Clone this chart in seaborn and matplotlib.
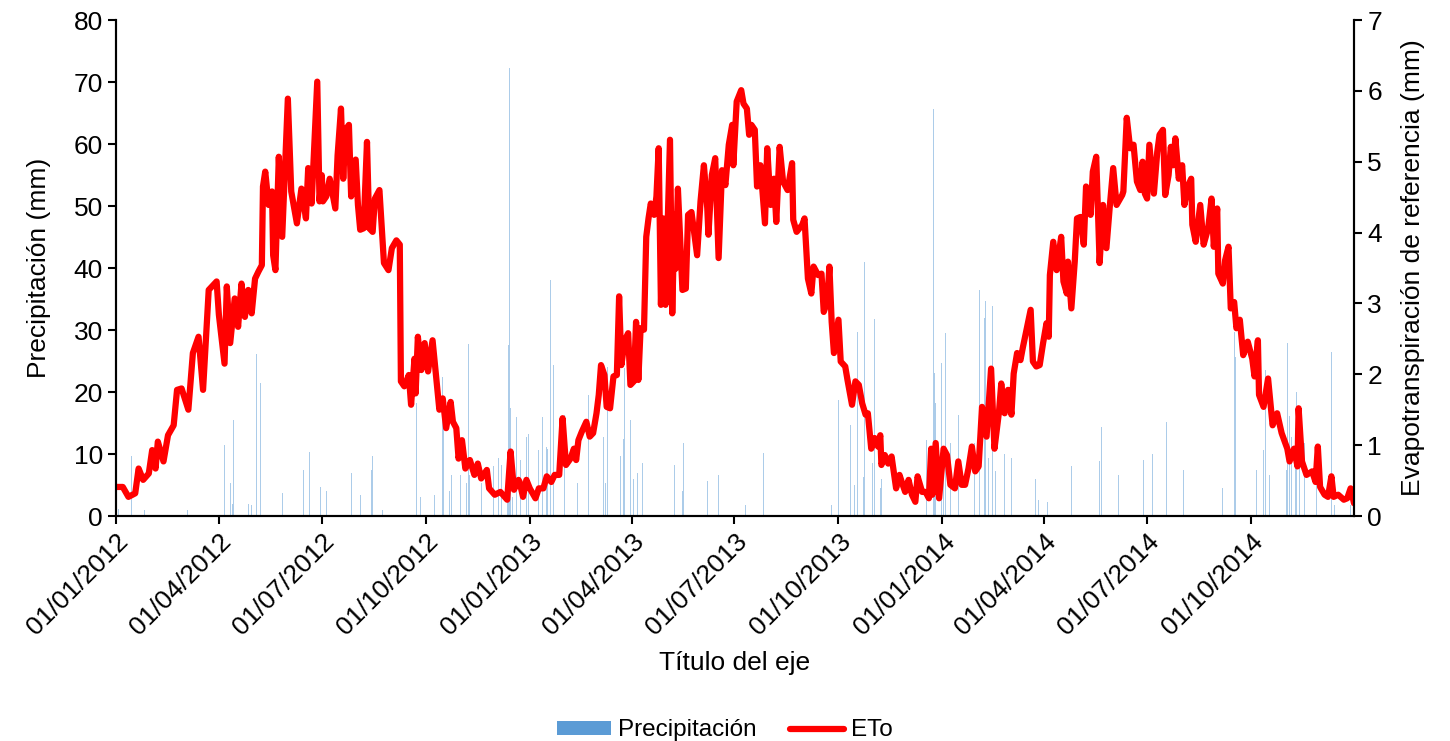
import pandas as pd
import seaborn as sns
import matplotlib.pyplot as plt
import matplotlib.dates as mdates
from matplotlib.patches import Patch
from matplotlib.lines import Line2D

# ETo (mm): día desde 01/01/2012 y valor
eto_dia = [0, 6, 11, 17, 20, 24, 29, 32, 35, 37, 42, 46, 51, 54, 58, 64, 68, 73, 77, 82,
           89, 91, 96, 98, 101, 105, 108, 111, 114, 117, 120, 123, 126, 129, 130, 132, 135, 138, 139, 141,
           144, 147, 152, 155, 160, 164, 168, 170, 173, 178, 180, 182, 183, 186, 189, 194, 196, 199, 201, 203,
           206, 208, 212, 214, 216, 219, 222, 224, 227, 229, 233, 237, 241, 244, 248, 251, 252, 255, 259, 261,
           264, 265, 267, 270, 273, 276, 280, 283, 286, 289, 292, 296, 298, 301, 303, 306, 309, 313, 317, 320,
           323, 328, 330, 335, 340, 346, 349, 352, 356, 357, 360, 363, 366, 371, 374, 378, 381, 385, 388, 392,
           395, 398, 402, 405, 407, 409, 412, 416, 419, 422, 425, 427, 429, 432, 434, 437, 440, 443, 445, 447,
           450, 453, 455, 458, 460, 462, 464, 467, 469, 471, 473, 476, 478, 480, 482, 484, 486, 490, 492, 494,
           495, 497, 501, 504, 506, 509, 514, 517, 520, 523, 524, 527, 530, 533, 536, 539, 542, 545, 546, 549,
           553, 555, 558, 560, 562, 565, 567, 570, 574, 576, 579, 582, 584, 587, 590, 594, 598, 599, 602, 607,
           609, 612, 615, 617, 621, 624, 626, 629, 631, 633, 635, 639, 641, 645, 647, 651, 654, 657, 660, 663,
           665, 668, 671, 674, 676, 677, 680, 683, 686, 690, 693, 695, 698, 701, 704, 707, 709, 713, 716, 719,
           721, 722, 725, 728, 732, 735, 738, 742, 745, 748, 751, 754, 757, 760, 763, 766, 770, 774, 777, 781,
           783, 786, 789, 792, 794, 797, 800, 802, 805, 809, 811, 814, 817, 820, 823, 825, 826, 829, 832, 836,
           838, 841, 842, 845, 848, 850, 853, 856, 858, 862, 864, 867, 870, 873, 876, 879, 882, 885, 890, 891,
           894, 897, 900, 903, 906, 908, 910, 912, 914, 918, 921, 923, 926, 928, 931, 933, 935, 937, 940, 943,
           945, 948, 951, 952, 955, 959, 962, 966, 969, 971, 974, 975, 979, 981, 984, 986, 989, 991, 994, 997,
           1001, 1005, 1007, 1010, 1011, 1015, 1019, 1023, 1027, 1031, 1036, 1038, 1042, 1045, 1046, 1049, 1053, 1058, 1061, 1063,
           1065, 1069, 1072, 1075, 1077, 1081, 1086, 1089, 1092, 1095]
eto_valor = [0.41, 0.41, 0.27, 0.32, 0.67, 0.51, 0.60, 0.93, 0.67, 1.05, 0.77, 1.14, 1.28, 1.78, 1.80, 1.50, 2.30, 2.53, 1.78, 3.19,
             3.31, 2.84, 2.15, 3.24, 2.44, 3.07, 2.67, 3.28, 2.81, 3.19, 2.86, 3.35, 3.45, 3.54, 4.65, 4.86, 4.39, 4.58, 3.68, 3.47,
             5.07, 3.94, 5.89, 4.58, 4.13, 4.62, 4.20, 4.91, 4.41, 6.13, 4.44, 4.81, 4.44, 4.51, 4.76, 4.34, 5.09, 5.75, 4.76, 5.45,
             5.52, 4.51, 5.03, 4.39, 4.04, 4.06, 5.28, 4.06, 4.01, 4.48, 4.60, 3.57, 3.47, 3.78, 3.89, 3.83, 1.90, 1.83, 1.99, 1.57,
             2.22, 1.73, 2.53, 2.06, 2.44, 2.04, 2.48, 1.99, 1.50, 1.66, 1.24, 1.61, 1.33, 1.24, 0.81, 1.07, 0.67, 0.79, 0.58, 0.74,
             0.53, 0.65, 0.39, 0.30, 0.34, 0.23, 0.91, 0.37, 0.51, 0.48, 0.27, 0.51, 0.39, 0.25, 0.39, 0.39, 0.56, 0.48, 0.58, 0.58,
             1.38, 0.72, 0.81, 0.95, 0.79, 1.07, 1.19, 1.33, 1.12, 1.17, 1.45, 1.71, 2.13, 1.99, 1.54, 1.52, 1.97, 1.99, 3.10, 2.13,
             2.48, 2.58, 1.85, 1.90, 2.74, 1.92, 2.65, 2.63, 3.94, 4.20, 4.41, 4.25, 4.51, 5.19, 2.98, 4.20, 2.98, 5.31, 2.86, 4.25,
             3.49, 4.62, 3.19, 3.21, 4.25, 4.29, 3.68, 4.44, 4.95, 4.34, 3.97, 4.81, 5.05, 3.64, 4.88, 4.67, 5.24, 5.52, 4.95, 5.85,
             6.01, 5.82, 5.75, 5.38, 5.52, 5.45, 4.65, 4.95, 4.13, 5.19, 4.39, 4.76, 4.15, 5.21, 4.72, 4.60, 4.98, 4.18, 4.01, 4.11,
             4.20, 3.35, 3.14, 3.52, 3.40, 3.42, 2.88, 3.02, 3.52, 2.74, 2.30, 2.77, 2.18, 2.11, 1.92, 1.57, 1.90, 1.85, 1.59, 1.43,
             1.45, 0.95, 1.10, 0.98, 1.14, 0.72, 0.86, 0.74, 0.84, 0.39, 0.58, 0.48, 0.34, 0.51, 0.30, 0.20, 0.56, 0.34, 0.34, 0.25,
             0.95, 0.30, 1.03, 0.25, 0.95, 0.86, 0.44, 0.39, 0.77, 0.44, 0.44, 0.67, 0.98, 0.63, 0.70, 1.54, 1.12, 2.08, 0.95, 1.47,
             1.87, 1.45, 1.78, 1.43, 2.01, 2.30, 2.20, 2.37, 2.60, 2.91, 2.18, 2.11, 2.13, 2.44, 2.72, 2.53, 3.40, 3.87, 3.47, 3.94,
             3.31, 3.14, 3.59, 2.93, 3.59, 4.20, 4.22, 3.83, 4.65, 4.25, 4.86, 5.07, 3.57, 4.39, 3.78, 4.37, 4.91, 4.39, 4.53, 4.58,
             5.62, 5.19, 5.24, 4.72, 4.60, 5.00, 4.55, 4.48, 5.24, 4.55, 5.14, 5.38, 5.45, 4.53, 4.81, 5.21, 4.95, 5.33, 4.76, 4.95,
             4.39, 4.65, 4.76, 4.11, 3.87, 4.39, 3.83, 4.06, 4.48, 3.80, 4.34, 3.42, 3.28, 3.61, 3.80, 2.93, 3.02, 2.65, 2.77, 2.27,
             2.46, 2.22, 1.97, 2.48, 1.71, 1.54, 1.94, 1.28, 1.45, 1.17, 0.95, 0.77, 0.95, 0.70, 1.52, 0.77, 0.58, 0.63, 0.48, 0.98,
             0.41, 0.30, 0.27, 0.56, 0.27, 0.30, 0.23, 0.25, 0.39, 0.18]

# Precipitación (mm): días con lluvia visibles
prec_dia = [2, 14, 25, 31, 63, 77, 96, 101, 103, 104, 108, 115, 117, 120, 123, 124, 128, 138, 147, 153,
            166, 171, 181, 186, 208, 216, 226, 227, 236, 266, 268, 269, 282, 283, 289, 290, 295, 297, 298, 305,
            307, 310, 312, 313, 321, 323, 330, 334, 338, 341, 346, 347, 348, 349, 351, 354, 358, 363, 365, 374,
            377, 381, 382, 383, 384, 387, 390, 397, 406, 408, 418, 431, 433, 435, 446, 449, 450, 452, 455, 458,
            461, 466, 494, 501, 502, 513, 523, 533, 557, 573, 612, 633, 635, 639, 650, 653, 656, 658, 661, 662,
            666, 669, 671, 676, 677, 717, 719, 723, 724, 725, 727, 730, 732, 734, 735, 738, 743, 745, 750, 759,
            764, 766, 768, 769, 772, 775, 778, 781, 786, 789, 792, 813, 816, 819, 820, 824, 843, 845, 870, 872,
            887, 903, 909, 917, 929, 944, 949, 979, 987, 989, 990, 1009, 1010, 1015, 1017, 1018, 1020, 1035, 1036, 1038,
            1040, 1041, 1043, 1044, 1047, 1051, 1056, 1062, 1075, 1078, 1092]
prec_valor = [1.2, 9.6, 0.9, 1.2, 0.9, 5.8, 11.5, 5.4, 2.0, 15.5, 24.9, 23.0, 2.0, 1.8, 32.7, 26.1, 21.4, 4.2, 3.7, 4.7,
              7.5, 10.4, 4.7, 4.0, 6.9, 3.4, 7.5, 9.6, 0.9, 18.2, 17.1, 3.1, 3.4, 10.9, 22.5, 15.3, 4.0, 6.6, 10.0, 6.6,
              20.0, 5.4, 27.8, 6.6, 7.5, 5.4, 7.2, 8.0, 9.4, 8.3, 4.0, 27.6, 72.2, 17.4, 3.1, 16.0, 9.1, 12.8, 13.3, 10.6,
              16.0, 11.1, 10.8, 49.2, 38.1, 24.4, 5.4, 16.3, 12.5, 5.4, 19.5, 12.8, 5.4, 24.1, 9.6, 12.5, 23.8, 13.5, 15.5, 6.0,
              6.9, 8.5, 8.2, 4.0, 11.7, 3.1, 5.7, 6.6, 1.8, 10.2, 2.3, 1.8, 60.5, 18.7, 14.7, 5.0, 29.6, 50.0, 6.3, 41.0,
              3.7, 8.5, 31.8, 4.5, 6.0, 12.3, 7.5, 65.6, 23.0, 18.2, 14.2, 24.7, 10.8, 29.5, 26.0, 11.8, 13.7, 16.3, 3.4, 11.8,
              36.5, 30.5, 31.9, 34.6, 9.4, 33.9, 7.2, 4.5, 10.0, 6.6, 9.4, 6.0, 2.6, 13.0, 15.6, 2.3, 6.6, 8.0, 8.8, 14.4,
              6.6, 9.1, 9.1, 10.0, 15.2, 7.5, 16.8, 4.5, 6.6, 29.7, 25.7, 7.5, 31.1, 10.6, 23.5, 57.4, 6.6, 7.5, 27.9, 16.2,
              12.8, 18.2, 14.2, 20.0, 10.8, 11.8, 11.7, 6.6, 26.5, 1.8, 1.8]

inicio = pd.Timestamp('2012-01-01')
df_eto = pd.DataFrame({'Fecha': inicio + pd.to_timedelta(eto_dia, unit='D'), 'ETo': eto_valor})
df_prec = pd.DataFrame({'Fecha': inicio + pd.to_timedelta(prec_dia, unit='D'), 'Precipitación': prec_valor})

sns.set_style('ticks')
plt.rcParams['font.family'] = ['Liberation Sans', 'DejaVu Sans']
plt.rcParams['font.size'] = 19
plt.rcParams['text.color'] = 'black'
plt.rcParams['axes.labelcolor'] = 'black'

fig = plt.figure(figsize=(14.5, 7.41), dpi=100)
ax = fig.add_axes([116 / 1450, 1 - 516 / 741, 1238 / 1450, 496 / 741])

ax.bar(df_prec['Fecha'], df_prec['Precipitación'], width=0.7, color='#5B9BD5', alpha=0.5, linewidth=0)
ax.set_ylim(0, 80)
ax.set_yticks(range(0, 81, 10))
ax.set_ylabel('Precipitación (mm)', fontsize=19, labelpad=16)
ax.set_xlabel('Título del eje', fontsize=19, labelpad=8)

ax2 = ax.twinx()
sns.lineplot(data=df_eto, x='Fecha', y='ETo', ax=ax2, color='#FF0000', linewidth=4.5)
ax2.set_ylim(0, 7)
ax2.set_yticks(range(0, 8))
ax2.set_ylabel('Evapotranspiración de referencia (mm)', fontsize=19, labelpad=14)
ax2.set_xlabel('Título del eje', fontsize=19, labelpad=8)

ax.set_xlim(pd.Timestamp('2012-01-01'), pd.Timestamp('2014-12-31'))
ax.xaxis.set_major_locator(mdates.MonthLocator(bymonth=[1, 4, 7, 10]))
ax.xaxis.set_major_formatter(mdates.DateFormatter('%d/%m/%Y'))
for lab in ax.get_xticklabels():
    lab.set_rotation(45)
    lab.set_ha('right')
    lab.set_rotation_mode('anchor')

for a in (ax, ax2):
    a.spines['top'].set_visible(False)
    for s in ('left', 'right', 'bottom'):
        a.spines[s].set_color('black')
        a.spines[s].set_linewidth(1.5)
    a.tick_params(direction='out', length=6, width=1.5, labelsize=19, colors='black')
ax.spines['right'].set_visible(True)
ax2.spines['left'].set_visible(True)

handles = [Patch(facecolor='#5B9BD5', edgecolor='none', label='Precipitación'),
           Line2D([], [], color='#FF0000', linewidth=4.5, label='ETo')]
fig.legend(handles=handles, loc='lower center', bbox_to_anchor=(0.5, -0.03), ncol=2, frameon=False,
           fontsize=17.5, handlelength=2.2, handleheight=0.5, columnspacing=1.4, handletextpad=0.3,
           labelcolor='black')

fig.savefig('out.png', dpi=100)
